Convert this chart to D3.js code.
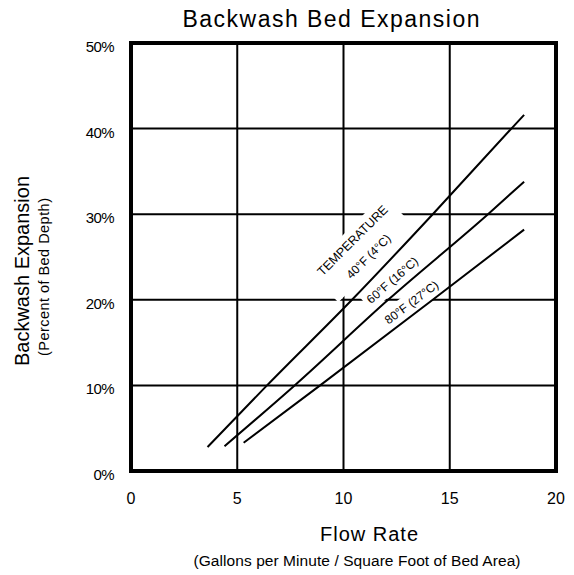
<!DOCTYPE html>
<html>
<head>
<meta charset="utf-8">
<script src="https://cdn.jsdelivr.net/npm/d3@7"></script>
<style>
  body { margin: 0; background: #fff; }
  svg { display: block; font-family: "Liberation Sans", Arial, sans-serif; }
</style>
</head>
<body>
<svg class="root"></svg>
<script>
// data
var xTicks = [0, 5, 10, 15, 20];
var yTicks = [0, 10, 20, 30, 40, 50];

var flow40 = [3.6, 6.4, 10.4, 14.2, 17.9, 18.5];
var exp40  = [2.8, 10, 20, 30, 40, 41.6];
var flow60 = [4.4, 7.7, 12.1, 16.8, 18.5];
var exp60  = [2.9, 10, 20, 30, 33.8];
var flow80 = [5.3, 8.9, 14.2, 18.5];
var exp80  = [3.3, 10, 20, 28.2];

var labelLines = [["TEMPERATURE", "40°F (4°C)"], ["60°F (16°C)"], ["80°F (27°C)"]];
var labelFlow  = [10.8, 12.3, 13.2];
var labelExp   = [26.0, 22.3, 19.7];
var labelAngle = [-45, -41, -37];

var width = 574, height = 575;

var x = d3.scaleLinear().domain([0, 20]).range([131, 556]);
var y = d3.scaleLinear().domain([0, 50]).range([471, 43]);

var svg = d3.select(".root")
    .attr("width", width)
    .attr("height", height);

// grid
svg.append("g")
  .selectAll("line")
  .data(xTicks.slice(1, -1))
  .enter().append("line")
    .attr("x1", (d) => x(d)).attr("x2", (d) => x(d))
    .attr("y1", y(50)).attr("y2", y(0))
    .attr("stroke", "#000").attr("stroke-width", 2);

svg.append("g")
  .selectAll("line")
  .data(yTicks.slice(1, -1))
  .enter().append("line")
    .attr("x1", x(0)).attr("x2", x(20))
    .attr("y1", (d) => y(d)).attr("y2", (d) => y(d))
    .attr("stroke", "#000").attr("stroke-width", 2);

// labels on white boxes
var labels = svg.append("g");
labelLines.forEach((lines, i) => {
  var g = labels.append("g")
    .attr("transform", "translate(" + x(labelFlow[i]) + "," + y(labelExp[i]) + ")rotate(" + labelAngle[i] + ")");
  var box = g.append("rect").attr("fill", "#fff");
  var off = (lines.length - 1) * 11.3;
  lines.forEach((t, j) => {
    g.append("text")
      .attr("x", 0)
      .attr("y", -off + j * 22.6)
      .attr("dy", "0.35em")
      .attr("text-anchor", "middle")
      .attr("font-size", j == 0 && lines.length > 1 ? 12.5 : 12)
      .text(t);
  });
  var bb = g.node().getBBox();
  var padX = lines.length > 1 ? 7 : 4, padY = lines.length > 1 ? 4 : 3;
  box.attr("x", bb.x - padX).attr("y", bb.y - padY)
     .attr("width", bb.width + 2 * padX).attr("height", bb.height + 2 * padY);
});

// curves
var line = d3.line()
    .x((d) => x(d[0]))
    .y((d) => y(d[1]))
    .curve(d3.curveMonotoneX);

[[flow40, exp40], [flow60, exp60], [flow80, exp80]].forEach((s) => {
  svg.append("path")
    .datum(d3.zip(s[0], s[1]))
    .attr("d", line)
    .attr("fill", "none")
    .attr("stroke", "#000")
    .attr("stroke-width", 2);
});

// frame
svg.append("rect")
  .attr("x", x(0)).attr("y", y(50))
  .attr("width", x(20) - x(0)).attr("height", y(0) - y(50))
  .attr("fill", "none").attr("stroke", "#000").attr("stroke-width", 4);

// tick labels
svg.append("g")
  .selectAll("text")
  .data(xTicks)
  .enter().append("text")
    .attr("x", (d) => x(d))
    .attr("y", 504)
    .attr("text-anchor", "middle")
    .attr("font-size", 16)
    .text((d) => d);

svg.append("g")
  .selectAll("text")
  .data(yTicks)
  .enter().append("text")
    .attr("x", 114)
    .attr("y", (d) => y(d) + 9)
    .attr("text-anchor", "end")
    .attr("font-size", 15)
    .attr("letter-spacing", -0.6)
    .text((d) => d + "%");

// titles
svg.append("text")
  .attr("x", 331).attr("y", 27)
  .attr("text-anchor", "middle")
  .attr("font-size", 23)
  .attr("textLength", 297)
  .attr("lengthAdjust", "spacing")
  .text("Backwash Bed Expansion");

svg.append("text")
  .attr("x", 369).attr("y", 541)
  .attr("text-anchor", "middle")
  .attr("font-size", 20)
  .attr("textLength", 98)
  .attr("lengthAdjust", "spacing")
  .text("Flow Rate");

svg.append("text")
  .attr("x", 357).attr("y", 566)
  .attr("text-anchor", "middle")
  .attr("font-size", 15.5)
  .attr("textLength", 327)
  .attr("lengthAdjust", "spacing")
  .text("(Gallons per Minute / Square Foot of Bed Area)");

svg.append("text")
  .attr("transform", "translate(29,271)rotate(-90)")
  .attr("text-anchor", "middle")
  .attr("font-size", 20)
  .text("Backwash Expansion");

svg.append("text")
  .attr("transform", "translate(49,277)rotate(-90)")
  .attr("text-anchor", "middle")
  .attr("font-size", 14.5)
  .attr("textLength", 158)
  .attr("lengthAdjust", "spacing")
  .text("(Percent of Bed Depth)");
</script>
</body>
</html>
